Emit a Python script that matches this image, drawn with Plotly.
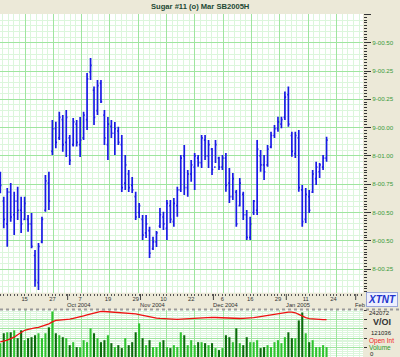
import plotly.graph_objects as go
import pandas as pd

# ---------------- data ----------------
holidays = ["2004-09-06", "2004-11-25", "2004-12-24", "2004-12-31", "2005-01-17"]
all_days = [d for d in pd.bdate_range("2004-09-03", "2005-02-10") if d.strftime("%Y-%m-%d") not in holidays]

high = [8.930, 8.820, 8.858, 8.880, 8.842, 8.864, 8.820, 8.820, 8.739, 8.748,
        8.584, 8.615, 8.731, 8.916, 8.930, 9.159, 9.151, 9.195, 9.181, 9.203,
        9.092, 9.167, 9.159, 9.172, 9.195, 9.366, 9.432, 9.306, 9.335, 9.335,
        9.203, 9.172, 9.159, 9.150, 9.129, 9.092, 9.004, 8.938, 8.907, 8.842,
        8.792, 8.739, 8.739, 8.687, 8.643, 8.668, 8.770, 8.753, 8.805, 8.805,
        8.814, 8.864, 9.004, 9.048, 8.938, 8.982, 9.013, 9.004, 9.092, 9.092,
        9.070, 9.035, 9.070, 8.996, 9.004, 9.013, 8.946, 8.925, 8.849, 8.902,
        8.842, 8.761, 8.731, 8.805, 9.070, 9.026, 9.004, 9.048, 9.107, 9.136,
        9.173, 9.173, 9.284, 9.306, 9.107, 9.107, 9.114, 8.871, 8.858, 8.849,
        8.938, 8.974, 8.969, 9.004, 9.085]
low = [8.835, 8.680, 8.599, 8.709, 8.651, 8.717, 8.659, 8.717, 8.665, 8.592,
       8.422, 8.408, 8.614, 8.753, 8.761, 9.004, 9.034, 9.070, 9.018, 8.995,
       8.960, 9.041, 9.041, 8.995, 9.070, 9.114, 9.335, 9.136, 9.181, 9.234,
       9.048, 8.982, 9.079, 9.004, 9.048, 8.840, 8.849, 8.840, 8.836, 8.717,
       8.726, 8.628, 8.637, 8.549, 8.584, 8.598, 8.681, 8.673, 8.628, 8.704,
       8.687, 8.731, 8.840, 8.827, 8.820, 8.886, 8.849, 8.952, 8.946, 8.982,
       8.946, 8.916, 8.969, 8.938, 8.938, 8.842, 8.792, 8.805, 8.687, 8.776,
       8.717, 8.628, 8.628, 8.739, 8.739, 8.930, 8.894, 8.952, 9.034, 9.079,
       9.107, 9.122, 9.159, 9.129, 8.996, 8.991, 8.842, 8.687, 8.704, 8.748,
       8.836, 8.871, 8.902, 8.938, 8.974]
open_ = [8.90, 8.80, 8.70, 8.84, 8.74, 8.80, 8.76, 8.72, 8.72, 8.70,
         8.56, 8.44, 8.62, 8.76, 8.88, 9.02, 9.12, 9.08, 9.16, 9.06,
         9.08, 9.05, 9.14, 9.05, 9.08, 9.16, 9.37, 9.29, 9.20, 9.32,
         9.18, 9.05, 9.13, 9.10, 9.11, 9.05, 8.88, 8.92, 8.87, 8.82,
         8.75, 8.72, 8.66, 8.67, 8.59, 8.62, 8.69, 8.73, 8.68, 8.78,
         8.71, 8.78, 8.85, 9.00, 8.86, 8.92, 8.95, 8.99, 8.97, 9.07,
         9.00, 9.03, 8.95, 8.99, 8.95, 8.99, 8.88, 8.82, 8.84, 8.78,
         8.83, 8.74, 8.64, 8.75, 8.76, 9.00, 8.96, 8.96, 9.04, 9.09,
         9.12, 9.14, 9.17, 9.27, 9.09, 9.01, 9.08, 8.85, 8.72, 8.82,
         8.84, 8.90, 8.93, 8.95, 8.99]
close = [8.87, 8.72, 8.84, 8.73, 8.80, 8.76, 8.70, 8.79, 8.70, 8.60,
         8.45, 8.60, 8.72, 8.89, 8.80, 9.12, 9.06, 9.17, 9.05, 9.17,
         8.98, 9.15, 9.06, 9.07, 9.18, 9.34, 9.40, 9.17, 9.31, 9.24,
         9.08, 9.14, 9.10, 9.12, 9.06, 8.86, 8.96, 8.86, 8.85, 8.73,
         8.78, 8.65, 8.70, 8.57, 8.62, 8.66, 8.74, 8.70, 8.79, 8.72,
         8.79, 8.85, 8.99, 8.86, 8.92, 8.96, 9.00, 8.97, 9.08, 9.00,
         9.05, 8.94, 9.05, 8.95, 8.99, 8.87, 8.82, 8.90, 8.70, 8.88,
         8.74, 8.64, 8.70, 8.80, 9.03, 8.96, 8.93, 9.03, 9.09, 9.12,
         9.15, 9.16, 9.26, 9.14, 9.02, 9.09, 8.86, 8.71, 8.83, 8.76,
         8.92, 8.95, 8.96, 8.99, 9.07]
volume = [73700, 126300, 131500, 131500, 142100, 100000, 142100, 89500, 100000, 105200,
          115800, 126300, 100000, 126300, 157900, 242072, 126300, 115800, 105200, 100000,
          63100, 78900, 52600, 52600, 89500, 78900, 152600, 126300, 100000, 78900,
          89500, 115800, 73700, 52600, 63100, 47400, 100000, 63100, 78900, 131500,
          178900, 100000, 63100, 89500, 52600, 52600, 78900, 89500, 52600, 47400,
          63100, 52600, 131500, 115800, 63100, 89500, 63100, 78900, 78900, 73700,
          63100, 73700, 47400, 36800, 47400, 115800, 105200, 78900, 152600, 73700,
          63100, 105200, 78900, 78900, 89500, 47400, 52600, 63100, 52600, 78900,
          89500, 73700, 105200, 131500, 100000, 100000, 194700, 236800, 126300, 78900,
          89500, 52600, 52600, 63100, 52600]
open_int = [80500, 84200, 89500, 97300, 105200, 118400, 131600, 142100, 147300, 152600,
            155200, 157900, 163100, 171000, 176300, 186800, 194700, 196300, 197300, 198400,
            201500, 205200, 208900, 212100, 218400, 224700, 229900, 234200, 238400, 242100,
            242100, 241000, 239900, 238900, 237800, 236800, 235700, 234200, 233100, 228900,
            225200, 221000, 217300, 213600, 210500, 206800, 205200, 203600, 202100, 200500,
            200000, 200500, 201500, 202600, 203600, 205200, 206800, 208900, 210500, 211500,
            212100, 211000, 210000, 208900, 207300, 205700, 204700, 203600, 204200, 204700,
            205700, 206300, 206800, 209400, 212100, 215200, 218400, 221000, 224200, 226800,
            229400, 232600, 235700, 238400, 238400, 235200, 226300, 215700, 209400, 203600,
            201500, 200000, 198400, 198400, 198400]

day_label_dates = ["2004-09-15", "2004-09-27", "2004-10-07", "2004-10-19", "2004-10-29",
                   "2004-11-10", "2004-11-22", "2004-12-06", "2004-12-16", "2004-12-29",
                   "2005-01-11", "2005-01-24"]
month_dates = ["2004-10-01", "2004-11-01", "2004-12-01", "2005-01-03", "2005-02-01"]
month_labels = ["Oct 2004", "Nov 2004", "Dec 2004", "Jan 2005", "Feb"]

price_tick_vals = [9.625, 9.5, 9.375, 9.25, 9.125, 9.0, 8.875, 8.75, 8.625, 8.5]
price_tick_text = ["", "9-00.50", "9-00.25", "9-00.25", "9-00.00", "8-01.00",
                   "8-00.75", "8-00.50", "8-00.50", "8-00.25"]

title_text = "Sugar #11 (o) Mar SB2005H"

# ---------------- derived ----------------
n = len(close)
day_str = [d.strftime("%Y-%m-%d") for d in all_days]
x_idx = list(range(n))
day_ticks = list(range(len(all_days)))
day_text = [str(d.day) if d.strftime("%Y-%m-%d") in day_label_dates else "" for d in all_days]
month_idx = [day_str.index(m) for m in month_dates]
vol_colors = ["#2fc42f" if (i == 0 or close[i] >= close[i - 1]) else "#0b6b0b" for i in range(n)]

XR = [-0.09, 104.5]
YR = [8.3957, 9.6268]
GRID_MAJOR = "#9fe59f"
GRID_MINOR = "#dcf6dc"
BG = "#ece9d8"
FONT = "Liberation Sans, Arial, sans-serif"
H_PLOT = 343.0
def py(px):
    return (357.0 - px) / H_PLOT

fig = go.Figure()
fig.add_trace(go.Ohlc(x=x_idx, open=open_, high=high, low=low, close=close,
                      increasing=dict(line=dict(color="#1a1ae6", width=1.7)),
                      decreasing=dict(line=dict(color="#1a1ae6", width=1.7)),
                      tickwidth=0.35, xaxis="x", yaxis="y", hoverinfo="skip"))
fig.add_trace(go.Bar(x=x_idx, y=volume, marker=dict(color=vol_colors, line=dict(width=0)),
                     width=0.6, xaxis="x4", yaxis="y3", hoverinfo="skip"))
fig.add_trace(go.Scatter(x=x_idx, y=open_int, mode="lines", line=dict(color="#ee1111", width=1.3),
                         xaxis="x4", yaxis="y3", hoverinfo="skip"))
# empty helper traces so that the overlay axes get drawn
fig.add_trace(go.Scatter(x=[None], y=[None], xaxis="x2", yaxis="y", mode="markers",
                         hoverinfo="skip"))
fig.add_trace(go.Scatter(x=[None], y=[None], xaxis="x", yaxis="y5", mode="markers",
                         hoverinfo="skip"))

xgrid = dict(range=XR, tickmode="linear", tick0=7.12, dtick=8.156, showgrid=True,
             gridcolor=GRID_MAJOR, gridwidth=1, showticklabels=False, ticks="",
             zeroline=False, showline=False,
             minor=dict(tickmode="linear", tick0=7.12, dtick=8.156 / 5, showgrid=True,
                        gridcolor=GRID_MINOR, gridwidth=1, ticks=""))

fig.update_layout(
    width=400, height=357,
    margin=dict(l=0, r=37, t=14, b=0),
    paper_bgcolor=BG, plot_bgcolor="white",
    showlegend=False,
    font=dict(family=FONT, size=6, color="#333"),
    xaxis=dict(xgrid, domain=[0, 1], anchor="y", rangeslider=dict(visible=False)),
    xaxis2=dict(range=XR, overlaying="x", anchor="y", side="bottom", tickmode="array",
                tickvals=day_ticks, ticktext=day_text, ticks="outside", ticklen=2,
                tickcolor="#555", showgrid=False, zeroline=False, showline=False,
                showticklabels=True, tickangle=0, ticklabelstandoff=-2,
                tickfont=dict(size=5.8, color="#333")),
    xaxis4=dict(xgrid, domain=[0, 1], anchor="y3"),
    yaxis=dict(domain=[py(292.7), 1.0], range=YR, side="right",
               tickmode="array", tickvals=price_tick_vals, ticktext=price_tick_text,
               ticks="outside", ticklen=7, tickcolor="#333", showgrid=True,
               gridcolor=GRID_MAJOR, zeroline=False, showline=False,
               tickfont=dict(size=6.2, color="#3a9a3a"),
               minor=dict(tickmode="linear", tick0=9.5, dtick=0.025, showgrid=True,
                          gridcolor=GRID_MINOR, ticks="")),
    yaxis5=dict(range=YR, overlaying="y", side="right", anchor="x",
                tickmode="linear", tick0=9.5, dtick=0.0125, ticks="outside", ticklen=3,
                tickcolor="#333", showticklabels=False, showgrid=False, zeroline=False),
    yaxis3=dict(domain=[0, py(310)], range=[0, 250000], side="right", anchor="x4",
                tickmode="linear", tick0=0, dtick=50000, showgrid=True, gridcolor=GRID_MAJOR,
                showticklabels=False, ticks="outside", ticklen=3, tickcolor="#333",
                zeroline=False, showline=False,
                minor=dict(tickmode="linear", dtick=10000, showgrid=True,
                           gridcolor=GRID_MINOR, ticks="")),
    bargap=0.3,
)

annotations = [
    dict(text="<b>" + title_text + "</b>", xref="paper", yref="paper", x=200 / 363, y=py(7),
         showarrow=False, font=dict(size=7.6, color="#1d4a35", family=FONT),
         xanchor="center", yanchor="middle"),
]
for mi, lab in zip(month_idx, month_labels):
    annotations.append(dict(text=lab, xref="x", yref="paper", x=mi, y=py(304.8), xanchor="left",
                            yanchor="middle", showarrow=False, borderpad=0,
                            font=dict(size=5.8, color="#333")))
# volume panel right labels
vol_labels = [("242072", 313.0, "#222", 6, False, 5), ("V/OI", 322.0, "#333", 9, True, 9),
              ("121036", 332.5, "#222", 6, False, 7), ("Open Int", 340.5, "#ee2222", 6.5, False, 5),
              ("Volume", 347.5, "#2a9a2a", 6.5, False, 5), ("0", 354.3, "#222", 6, False, 6)]
for t, yy, c, s, b, xs in vol_labels:
    annotations.append(dict(text=("<b>%s</b>" % t) if b else t, xref="paper", yref="paper",
                            x=1.0, xshift=xs, y=py(yy), xanchor="left", borderpad=0,
                            yanchor="middle", showarrow=False, font=dict(size=s, color=c)))
annotations.append(dict(text="<b><i>XTNT</i></b>", xref="paper", yref="paper", x=1.0, xshift=3,
                        y=py(299), xanchor="left", yanchor="middle", showarrow=False,
                        font=dict(size=10, color="#2233cc"), bgcolor="#eef0ff",
                        bordercolor="#9aa6d8", borderwidth=1, borderpad=1))
fig.update_layout(annotations=annotations)

shapes = []
for mi in month_idx:
    shapes.append(dict(type="line", xref="x", yref="paper", x0=mi + 0.4, x1=mi + 0.4,
                       y0=py(294), y1=py(300), line=dict(color="#444", width=1)))
shapes.append(dict(type="line", xref="paper", yref="paper", x0=0, x1=1.1, y0=py(309.5),
                   y1=py(309.5), line=dict(color="#9a9a9a", width=2, dash="dot")))
fig.update_layout(shapes=shapes)

fig.write_html("out.html")
